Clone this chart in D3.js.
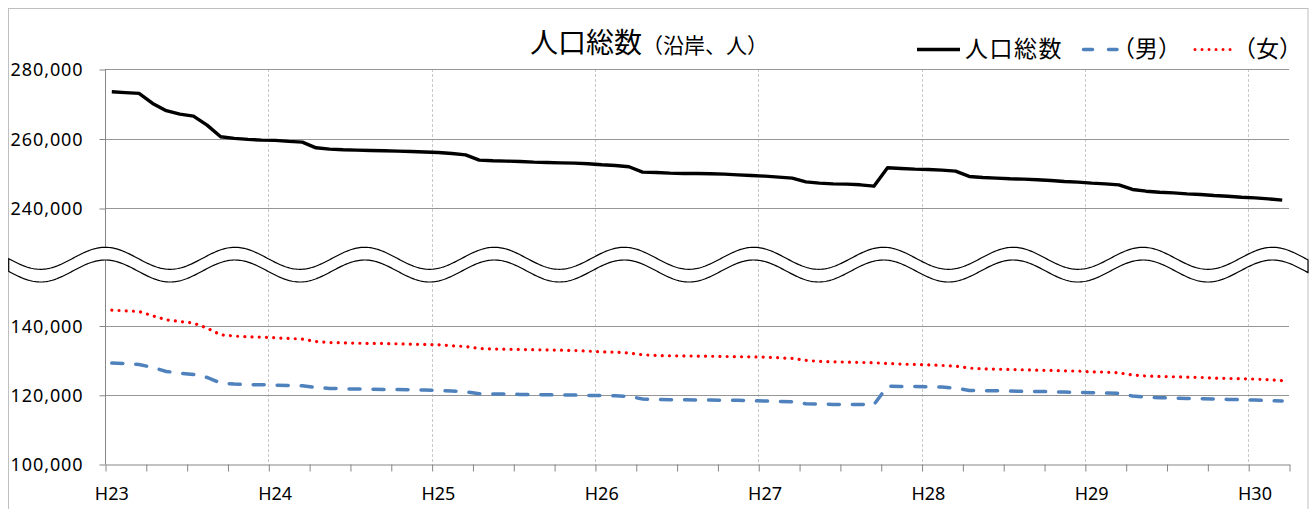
<!DOCTYPE html>
<html><head><meta charset="utf-8">
<script src="https://cdn.jsdelivr.net/npm/d3@7"></script>
<style>
html,body{margin:0;padding:0;background:#fff;}
svg{display:block;}
.num{font-family:"Noto Sans",sans-serif;font-size:18px;fill:#000;}
.jp{font-family:"Noto Sans CJK JP",sans-serif;fill:#000;}
</style></head>
<body>
<svg id="c" width="1312" height="509"></svg>
<script>
const yearLabels = ["H23","H24","H25","H26","H27","H28","H29","H30"];
const topTicks = [240000, 260000, 280000];
const bottomTicks = [100000, 120000, 140000];
const nMonths = 87;
const categories = d3.range(nMonths).map(i => yearLabels[Math.floor(i/12)] + "." + (i%12+1));

const total = [273460,273200,273000,270100,268000,267000,266450,263860,260500,260030,259740,259540,
259450,259160,258960,257320,256940,256750,256650,256560,256460,256370,256270,256130,
255980,255690,255300,253770,253580,253490,253390,253200,253100,253000,252910,252720,
252430,252240,251860,250320,250220,250030,249930,249930,249840,249740,249540,249360,
249160,248870,248590,247530,247150,246950,246860,246670,246280,251570,251380,251180,
251080,250890,250600,249080,248780,248590,248400,248300,248110,247920,247630,247440,
247150,246950,246670,245330,244840,244550,244360,244070,243880,243590,243400,243110,
242920,242630,242250];
const male = [129140,129040,128750,127880,126730,126250,125860,125000,123360,123080,122890,122890,
122790,122700,122600,122110,121830,121730,121640,121640,121540,121540,121450,121350,
121250,121060,120870,120290,120200,120200,120100,120000,120000,119910,119910,119810,
119810,119720,119530,118760,118660,118570,118570,118470,118470,118380,118380,118280,
118180,118090,117990,117400,117310,117210,117210,117210,117110,122500,122400,122400,
122300,122210,121920,121250,121150,121150,121060,120960,120960,120870,120770,120680,
120580,120480,120390,119620,119330,119140,119040,118950,118850,118760,118660,118570,
118470,118280,118180];
const female = [144440,144240,144040,142800,141650,141150,140690,139250,137320,136940,136740,136650,
136450,136260,136070,135380,135090,135000,134900,134810,134810,134710,134620,134520,
134430,134140,133940,133360,133200,133150,133080,133000,132940,132870,132790,132600,
132410,132310,132030,131550,131350,131260,131230,131160,131130,131070,130990,130950,
130870,130680,130490,129910,129620,129530,129430,129340,129240,129040,128850,128750,
128650,128460,128270,127690,127500,127400,127300,127210,127110,127020,126920,126820,
126630,126540,126340,125680,125390,125300,125200,125100,125010,124820,124720,124630,
124530,124340,124050];

const svg = d3.select("#c");
const L = 105, R = 1289;
const x = d3.scaleLinear().domain([0, nMonths]).range([L, R]);
const yTop = d3.scaleLinear().domain([240000, 280000]).range([208, 69]);
const yBot = d3.scaleLinear().domain([100000, 140000]).range([464, 325.5]);
const fmt = d3.format(",");

// outer frame
svg.append("rect").attr("x",8.5).attr("y",8.5).attr("width",1299.5).attr("height",520)
  .attr("fill","none").attr("stroke","#bfbfbf").attr("stroke-width",1);

// vertical dashed year gridlines
const yearIdx = d3.range(1, yearLabels.length).map(k => k*12);
svg.append("g").selectAll("line").data(yearIdx).join("line")
  .attr("x1", d => Math.round(x(d))+0.5).attr("x2", d => Math.round(x(d))+0.5)
  .attr("y1", 69).attr("y2", 464)
  .attr("stroke","#c8c8c8").attr("stroke-width",1).attr("stroke-dasharray","3,2");

// horizontal gridlines
svg.append("g").selectAll("line").data(topTicks).join("line")
  .attr("x1", L).attr("x2", R).attr("y1", d => Math.round(yTop(d))+0.5).attr("y2", d => Math.round(yTop(d))+0.5)
  .attr("stroke","#969696").attr("stroke-width",1);
svg.append("g").selectAll("line").data(bottomTicks.slice(1)).join("line")
  .attr("x1", L).attr("x2", R).attr("y1", d => Math.round(yBot(d))+0.5).attr("y2", d => Math.round(yBot(d))+0.5)
  .attr("stroke","#969696").attr("stroke-width",1);

// y axes
function styleAxis(g){
  g.select(".domain").remove();
  g.selectAll(".tick line").attr("stroke","#868686");
  g.selectAll(".tick text").attr("class","num").attr("x",-22).attr("dy","0.35em").style("letter-spacing","0.9px");
}
svg.append("g").attr("transform",`translate(${L+0.5},0.5)`)
  .call(d3.axisLeft(yTop).tickValues(topTicks).tickFormat(fmt).tickSize(6))
  .call(styleAxis);
svg.append("g").attr("transform",`translate(${L+0.5},0.5)`)
  .call(d3.axisLeft(yBot).tickValues(bottomTicks).tickFormat(fmt).tickSize(6))
  .call(styleAxis);
svg.append("line").attr("x1",L+0.5).attr("x2",L+0.5).attr("y1",69).attr("y2",464.5)
  .attr("stroke","#868686");

// x axis
const xg = svg.append("g").attr("transform",`translate(0.5,${Math.round(yBot(100000))+0.5})`)
  .call(d3.axisBottom(x).tickValues(d3.range(0, nMonths+1, 3)).tickFormat("").tickSize(7).tickSizeOuter(0));
xg.select(".domain").attr("stroke","#868686");
xg.selectAll(".tick line").attr("stroke","#868686");
svg.append("g").selectAll("text").data(yearLabels).join("text")
  .attr("class","num").attr("text-anchor","middle")
  .attr("x", (d,i) => x(i*12+0.5)).attr("y", 500).text(d => d);

// series
const px = (d,i) => x(i+0.5);
svg.append("path").datum(total)
  .attr("d", d3.line().x(px).y(d => yTop(d)))
  .attr("fill","none").attr("stroke","#000").attr("stroke-width",3.4).attr("stroke-linejoin","round");
svg.append("path").datum(female)
  .attr("d", d3.line().x(px).y(d => yBot(d)))
  .attr("fill","none").attr("stroke","#ff0000").attr("stroke-width",3.2)
  .attr("stroke-linecap","round").attr("stroke-dasharray","0.01,7.2");
svg.append("path").datum(male)
  .attr("d", d3.line().x(px).y(d => yBot(d)))
  .attr("fill","none").attr("stroke","#4f81bd").attr("stroke-width",3.5)
  .attr("stroke-linecap","round").attr("stroke-dasharray","11,13");

// break band (wavy)
const P = 129.7, A = 11, cTop = 258.3, off = 12.7, x0 = 8.7, x1 = 1308;
const xs = d3.range(x0, x1, 1.5).concat([x1]);
const wy = xx => cTop - A*Math.cos(2*Math.PI*(xx-105.3)/P);
const topPts = xs.map(xx => [xx, wy(xx)]);
const botPts = xs.map(xx => [xx, wy(xx)+off]).reverse();
const band = d3.line()(topPts.concat(botPts)) + "Z";
svg.append("path").attr("d", band).attr("fill","#fff").attr("stroke","#000").attr("stroke-width",1.2);

// title
const title = svg.append("text").attr("class","jp").attr("x",530).attr("y",53);
title.append("tspan").style("font-size","28px").text("人口総数");
title.append("tspan").style("font-size","21px").text("（沿岸、人）");

// legend
const lg = svg.append("g");
lg.append("line").attr("x1",917).attr("x2",960).attr("y1",49.5).attr("y2",49.5)
  .attr("stroke","#000").attr("stroke-width",3.4);
lg.append("text").attr("class","jp").attr("x",965).attr("y",57).style("font-size","23px")
  .style("letter-spacing","1.5px").text("人口総数");
lg.append("line").attr("x1",1083.5).attr("x2",1117).attr("y1",49.5).attr("y2",49.5)
  .attr("stroke","#4f81bd").attr("stroke-width",3.5).attr("stroke-linecap","round").attr("stroke-dasharray","9,16");
lg.append("text").attr("class","jp").attr("x",1112).attr("y",57).style("font-size","23px")
  .text("（男）");
lg.append("line").attr("x1",1195).attr("x2",1231).attr("y1",49.5).attr("y2",49.5)
  .attr("stroke","#ff0000").attr("stroke-width",3).attr("stroke-linecap","round").attr("stroke-dasharray","0.01,7");
lg.append("text").attr("class","jp").attr("x",1233).attr("y",57).style("font-size","23px")
  .text("（女）");
</script>
</body></html>
